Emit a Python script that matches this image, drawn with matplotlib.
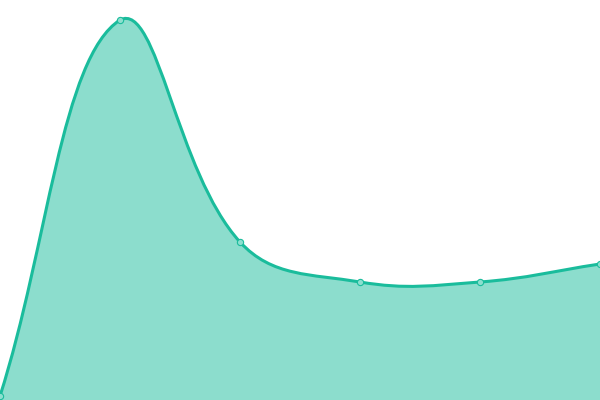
import numpy as np
import matplotlib
matplotlib.use("Agg")
from matplotlib import pyplot as plt
from matplotlib.path import Path
from matplotlib.patches import PathPatch

# values (y axis 0..100, no axes shown)
labels = ["A", "B", "C", "D", "E", "F"]
values = [1, 95, 39.5, 29.5, 29.5, 34]

line_color = "#1abc9c"
tension = 0.4

W, H = 600, 400
fig = plt.figure(figsize=(W / 100, H / 100), dpi=100)
ax = fig.add_axes([0, 0, 1, 1])
ax.set_xlim(0, len(values) - 1)
ax.set_ylim(0, 100)
ax.axis("off")

# work in pixel-like units so the spline tension matches a 600x400 canvas
sx = W / (len(values) - 1)
sy = H / 100
px = np.arange(len(values)) * sx
py = np.array(values) * sy
pts = np.column_stack([px, py])


def control_points(pts, t):
    n = len(pts)
    cps = []
    for i in range(n):
        prev = pts[max(i - 1, 0)]
        cur = pts[i]
        nxt = pts[min(i + 1, n - 1)]
        d01 = np.hypot(*(cur - prev))
        d12 = np.hypot(*(nxt - cur))
        tot = d01 + d12
        s01 = d01 / tot if tot else 0
        s12 = d12 / tot if tot else 0
        fa, fb = t * s01, t * s12
        cp_prev = cur - fa * (nxt - prev)
        cp_next = cur + fb * (nxt - prev)
        cp_prev[1] = np.clip(cp_prev[1], 0, H)
        cp_next[1] = np.clip(cp_next[1], 0, H)
        cps.append((cp_prev, cp_next))
    return cps


cps = control_points(pts, tension)
verts = [pts[0]]
codes = [Path.MOVETO]
for i in range(len(pts) - 1):
    verts += [cps[i][1], cps[i + 1][0], pts[i + 1]]
    codes += [Path.CURVE4] * 3
verts = np.array(verts) / [sx, sy]

line_path = Path(verts, codes)
fill_verts = np.vstack([verts, [[len(values) - 1, 0], [0, 0], [0, 0]]])
fill_codes = codes + [Path.LINETO, Path.LINETO, Path.CLOSEPOLY]
fill_path = Path(fill_verts, fill_codes)

ax.add_patch(PathPatch(fill_path, facecolor=line_color, alpha=0.5,
                       edgecolor="none", zorder=1))
ax.add_patch(PathPatch(line_path, facecolor="none", edgecolor=line_color,
                       linewidth=2.2, zorder=2, capstyle="round",
                       joinstyle="round"))
ax.plot(np.arange(len(values)), values, linestyle="none", marker="o",
        markersize=4.5, markerfacecolor="#8ddfcf", markeredgecolor=line_color,
        markeredgewidth=0.8, zorder=3, clip_on=False)

fig.savefig("out.png", dpi=100)
